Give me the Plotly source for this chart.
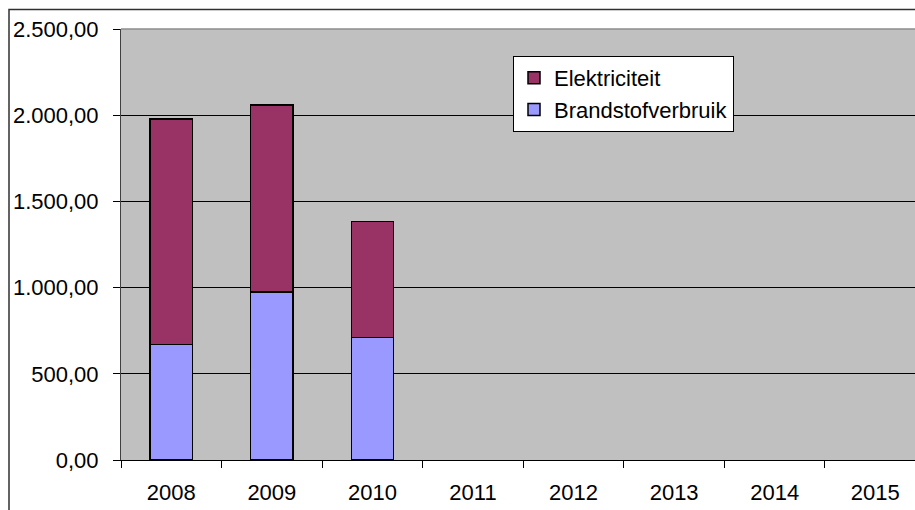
import plotly.graph_objects as go

years = ["2008", "2009", "2010", "2011", "2012", "2013", "2014", "2015"]
brandstofverbruik = [671, 975, 712, None, None, None, None, None]
elektriciteit = [1307, 1084, 670, None, None, None, None, None]
y_ticks = [0, 500, 1000, 1500, 2000, 2500]
y_ticktext = ["0,00", "500,00", "1.000,00", "1.500,00", "2.000,00", "2.500,00"]

FONT = "Liberation Sans, Arial, sans-serif"

fig = go.Figure()
fig.add_trace(go.Bar(
    x=years, y=brandstofverbruik, name="Brandstofverbruik",
    marker=dict(color="#9999FF", line=dict(color="black", width=1.5)),
))
fig.add_trace(go.Bar(
    x=years, y=elektriciteit, name="Elektriciteit",
    marker=dict(color="#993366", line=dict(color="black", width=1.5)),
))

W, H = 915, 510
L, R, T, B = 121, 0, 29, 50
pw, ph = W - L - R, H - T - B

fig.update_layout(
    width=W, height=H,
    margin=dict(l=L, r=R, t=T, b=B, pad=0),
    barmode="stack",
    bargap=0.58,
    plot_bgcolor="#C0C0C0",
    paper_bgcolor="white",
    font=dict(family=FONT, size=22, color="black"),
    showlegend=True,
    legend=dict(
        x=(513 - L) / pw, y=1 - (56 - T) / ph,
        xanchor="left", yanchor="top",
        bgcolor="white", bordercolor="black", borderwidth=1,
        traceorder="reversed",
        font=dict(family=FONT, size=22, color="black"),
        tracegroupgap=0,
        itemwidth=30,
    ),
    xaxis=dict(
        type="category",
        range=[-0.5, 7.395],
        tickson="boundaries",
        ticks="outside", ticklen=7, tickcolor="black", tickwidth=1,
        showline=True, linecolor="black", linewidth=1,
        showgrid=False,
        ticklabelstandoff=13,
    ),
    yaxis=dict(
        range=[0, 2500],
        tickvals=y_ticks, ticktext=y_ticktext,
        ticks="outside", ticklen=7, tickcolor="black", tickwidth=1,
        showline=True, linecolor="#404040", linewidth=1,
        showgrid=True, gridcolor="black", gridwidth=1,
        zeroline=False,
        ticklabelstandoff=10,
    ),
    shapes=[
        dict(type="line", xref="paper", yref="paper", x0=0, x1=1, y0=1, y1=1,
             line=dict(color="#8c8c8c", width=1.5), layer="above"),
        dict(type="rect", xref="paper", yref="paper",
             x0=(9 - L) / pw, x1=1.05, y0=-0.3, y1=1 + (T - 9.5) / ph,
             line=dict(color="#303030", width=1.5), layer="above"),
    ],
)

fig.write_html(
    "out.html",
    config={"displayModeBar": False},
    post_script="document.body.style.margin='0';document.body.style.overflow='hidden';",
)
